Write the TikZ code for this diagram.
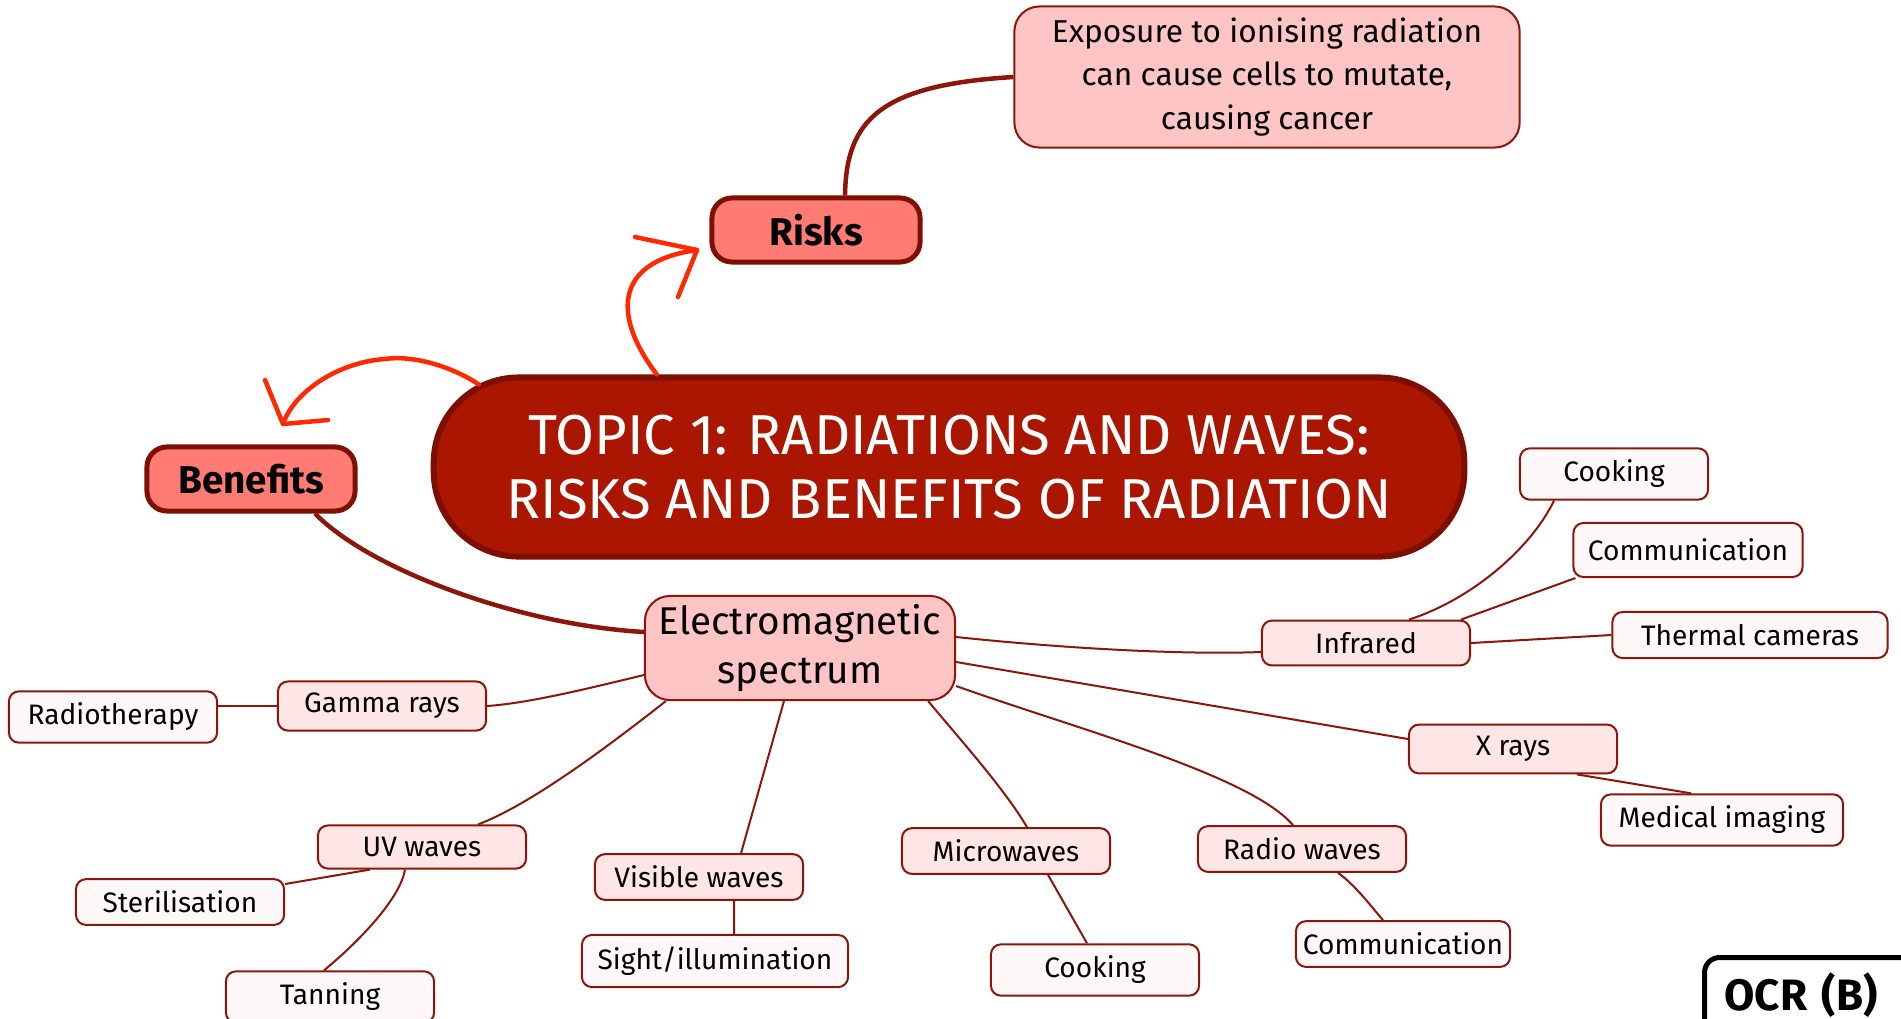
\documentclass[tikz,border=0pt]{standalone}
\usepackage{fontspec}
\setmainfont{Fira Sans}
\usetikzlibrary{calc}
\definecolor{TitleClr}{RGB}{170,22,0}
\definecolor{TitleLineClr}{RGB}{125,14,0}
\definecolor{KeyClr}{RGB}{255,123,115}
\definecolor{KeyLineClr}{RGB}{125,16,0}
\definecolor{HubClr}{RGB}{255,196,196}
\definecolor{BranchClr}{RGB}{255,230,230}
\definecolor{LeafClr}{RGB}{255,248,248}
\definecolor{EdgeClr}{RGB}{140,22,10}
\definecolor{ArrowClr}{RGB}{255,40,0}

\begin{document}
\begin{tikzpicture}[x=0.01cm,y=-0.01cm,
  TitleBox/.style={fill=TitleClr,draw=TitleLineClr,line width=0.06cm,rounded corners=0.85cm,
    minimum width=10.3cm,minimum height=1.79cm,text=white,align=center,
    font=\fontsize{16}{18.2}\selectfont},
  KeyBox/.style={fill=KeyClr,draw=KeyLineClr,line width=0.05cm,rounded corners=0.2cm,
    minimum width=2.08cm,minimum height=0.64cm,font=\fontsize{11}{13}\selectfont\bfseries},
  HubBox/.style={fill=HubClr,draw=EdgeClr,line width=0.02cm,rounded corners=0.25cm,
    align=center,inner ysep=1pt},
  BranchBox/.style={fill=BranchClr,draw=EdgeClr,line width=0.02cm,rounded corners=0.1cm,
    minimum width=2.08cm,minimum height=0.39cm,inner xsep=2pt,font=\fontsize{8}{10}\selectfont},
  LeafBox/.style={BranchBox,fill=LeafClr},
  OcrBox/.style={draw=black,fill=white,line width=0.05cm,rounded corners=0.15cm,
    text width=2.2cm,align=left,inner xsep=0.2cm,minimum height=0.75cm,
    font=\fontsize{12.5}{15}\selectfont\bfseries},
  Link/.style={draw=EdgeClr,line width=0.02cm},
  MainLink/.style={draw=EdgeClr,line width=0.045cm},
  RedLine/.style={draw=ArrowClr,line width=0.045cm,line cap=round,line join=round}]

\path[fill=white,use as bounding box] (0,0) rectangle (1901,1018);
\clip (0,0) rectangle (1901,1018);

\node[TitleBox] (Title) at (949,467) {TOPIC 1: RADIATIONS AND WAVES:\\RISKS AND BENEFITS OF RADIATION};
\node[KeyBox] (Risk) at (816,230) {Risks};
\node[KeyBox] (Ben) at (251,479) {Benefits};
\node[HubBox,minimum width=5.05cm,minimum height=1.41cm,font=\fontsize{9}{12.5}\selectfont]
  (Expo) at (1267,77) {Exposure to ionising radiation\\can cause cells to mutate,\\causing cancer};
\node[HubBox,minimum width=3.1cm,minimum height=1.04cm,font=\fontsize{11}{14.2}\selectfont]
  (EM) at (800,648) {Electromagnetic\\spectrum};

\node[BranchBox] (Gam) at (382,706) {Gamma rays};
\node[LeafBox,minimum height=0.4cm] (Radt) at (113,717) {Radiotherapy};
\node[BranchBox] (UV) at (422,847) {UV waves};
\node[LeafBox] (Ster) at (180,902) {Sterilisation};
\node[LeafBox,minimum height=0.4cm] (Tan) at (330,997) {Tanning};
\node[BranchBox] (Vis) at (699,877) {Visible waves};
\node[LeafBox,minimum width=2.66cm] (Sight) at (715,961) {Sight/illumination};
\node[BranchBox] (Mic) at (1006,851) {Microwaves};
\node[LeafBox] (MicC) at (1095,970) {Cooking};
\node[BranchBox,minimum height=0.4cm] (Rad) at (1302,849) {Radio waves};
\node[LeafBox] (RadC) at (1403,944) {Communication};
\node[BranchBox,minimum height=0.38cm] (Xr) at (1513,749) {X rays};
\node[LeafBox,minimum width=2.42cm,minimum height=0.38cm] (Med) at (1722,820) {Medical imaging};
\node[BranchBox,minimum height=0.4cm] (IR) at (1366,643) {Infrared};
\node[LeafBox,minimum width=1.88cm,minimum height=0.42cm] (IRc) at (1614,474) {Cooking};
\node[LeafBox,minimum width=2.29cm,minimum height=0.54cm] (IRm) at (1688,550) {Communication};
\node[LeafBox,minimum width=2.75cm,minimum height=0.46cm] (IRt) at (1750,635) {Thermal cameras};

\node[OcrBox,anchor=north west] (OCR) at (1702,955) {OCR (B)};

\draw[MainLink] ([xshift=0.29cm]Risk.north) .. controls (846,120) and (880,85) .. (Expo.west);
\draw[MainLink] ([xshift=0.64cm]Ben.south) .. controls (370,570) and (520,625) .. ([yshift=0.16cm]EM.west);

\draw[Link] ([yshift=-0.27cm]EM.west) .. controls (590,688) and (530,703) .. (Gam.east);
\draw[Link] (Gam.west) -- (Gam.west -| Radt.east);
\draw[Link] ([xshift=0.22cm]EM.south west) .. controls (610,745) and (530,805) .. ([xshift=0.56cm]UV.north);
\draw[Link] ([xshift=-0.52cm]UV.south) -- ([yshift=0.18cm]Ster.east);
\draw[Link] ([xshift=-0.17cm]UV.south) .. controls (400,900) and (355,945) .. ([xshift=-0.06cm]Tan.north);
\draw[Link] ([xshift=-0.16cm]EM.south) -- ([xshift=0.42cm]Vis.north);
\draw[Link] ([xshift=0.35cm]Vis.south) -- ([xshift=0.19cm]Sight.north);
\draw[Link] ([xshift=1.28cm]EM.south) .. controls (965,745) and (1005,790) .. ([xshift=0.21cm]Mic.north);
\draw[Link] ([xshift=0.42cm]Mic.south) -- ([xshift=-0.08cm]MicC.north);
\draw[Link] ([yshift=-0.38cm]EM.east) .. controls (1080,730) and (1250,775) .. ([xshift=-0.09cm]Rad.north);
\draw[Link] ([xshift=0.36cm]Rad.south) .. controls (1355,885) and (1370,905) .. ([xshift=-0.2cm]RadC.north);
\draw[Link] ([yshift=-0.14cm]EM.east) -- ([yshift=0.1cm]Xr.west);
\draw[Link] ([xshift=0.64cm]Xr.south) -- ([xshift=-0.31cm]Med.north);
\draw[Link] ([yshift=0.11cm]EM.east) .. controls (1060,648) and (1180,655) .. ([yshift=-0.09cm]IR.west);
\draw[Link] ([xshift=0.43cm]IR.north) .. controls (1470,600) and (1530,550) .. ([xshift=-0.6cm]IRc.south);
\draw[Link] ([xshift=0.95cm]IR.north) -- ([xshift=0.03cm]IRm.south west);
\draw[Link] (IR.east) -- (IRt.west);

\coordinate (RiskTip) at (697,250);
\coordinate (BenTip) at (283,424);
\draw[RedLine] ([xshift=-2.92cm]Title.north) .. controls (615,320) and (610,262) .. (RiskTip);
\draw[RedLine] (RiskTip) ++(-62,-13) -- (RiskTip) -- ++(-19,47);
\draw[RedLine] ([shift={(48,10)}]Title.north west) .. controls (450,365) and (410,355) .. (385,359)
  .. controls (340,362) and (295,390) .. (BenTip);
\draw[RedLine] (BenTip) ++(-18,-44) -- (BenTip) -- ++(45,-4);

\end{tikzpicture}
\end{document}
